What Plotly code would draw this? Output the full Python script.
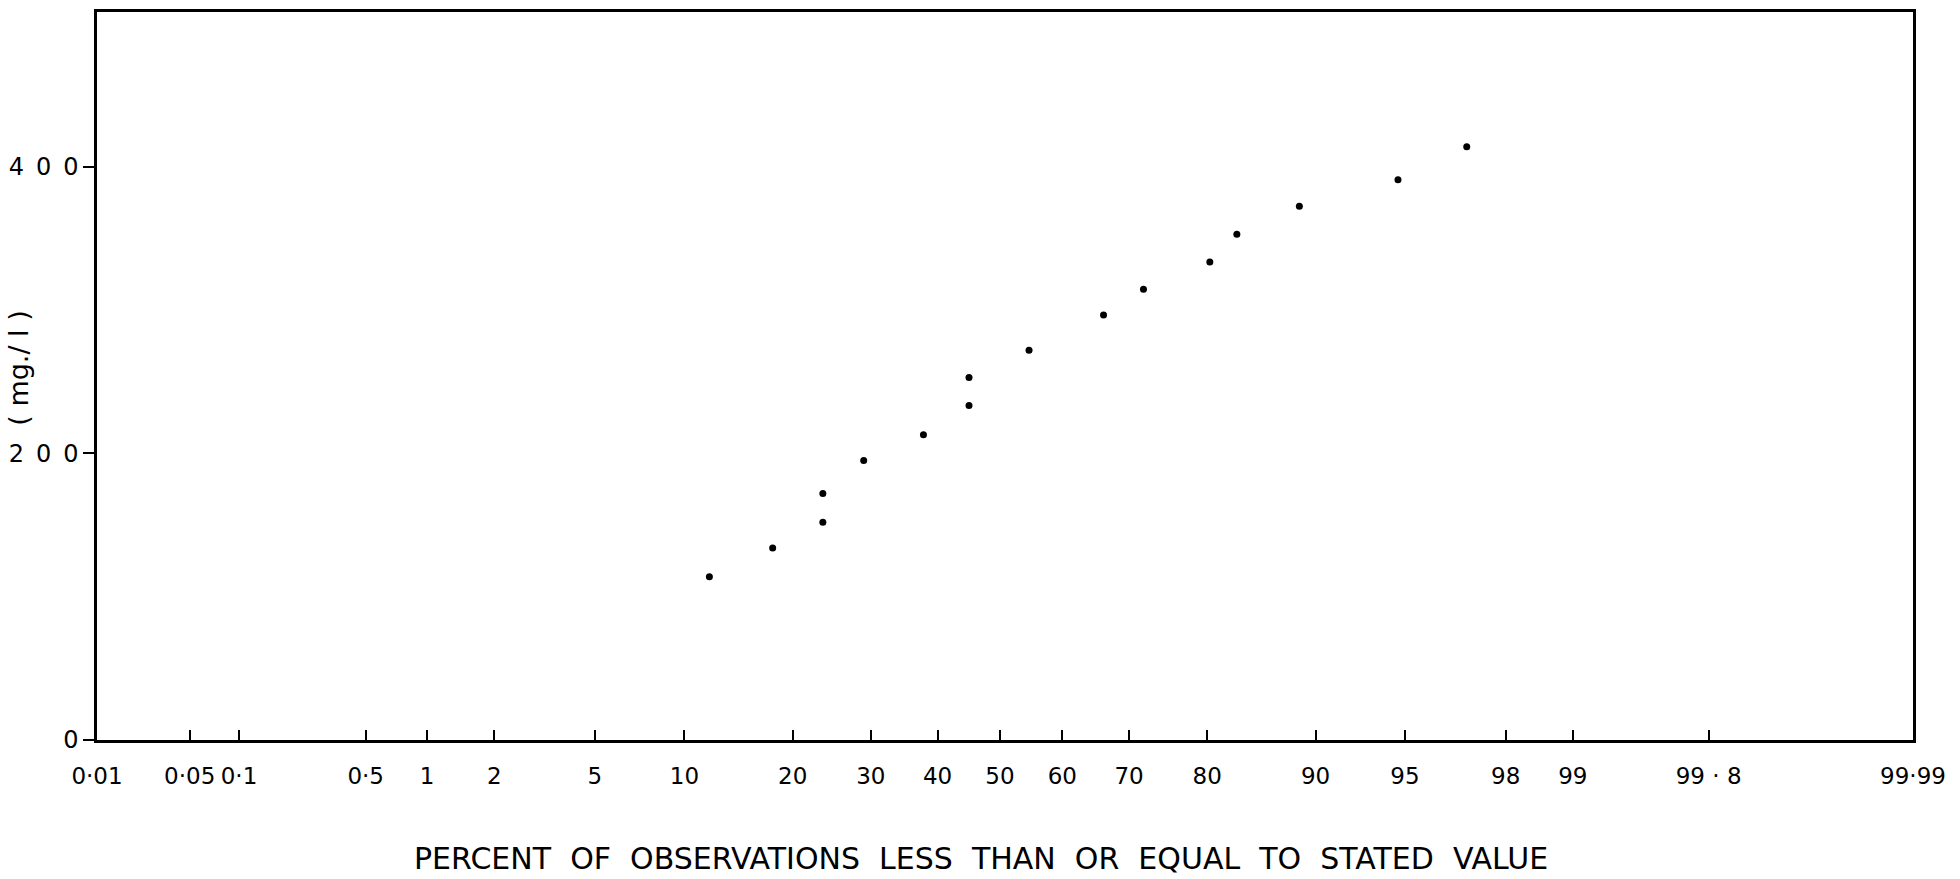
from statistics import NormalDist
import plotly.graph_objects as go

# Cumulative percent of observations (<= stated value) and the stated values (mg/l)
percent_le = [11.9, 17.8, 23.6, 23.6, 29.0, 37.8, 45.0, 45.0,
              54.7, 66.3, 72.0, 80.3, 83.2, 88.8, 94.7, 97.1]
conc_mg_l = [114, 134, 152, 172, 195, 213, 233.5, 253,
             272, 296.5, 314.5, 333.5, 353, 372.5, 391, 414]

# Probability-scale tick marks
prob_ticks = [0.01, 0.05, 0.1, 0.5, 1, 2, 5, 10, 20, 30, 40, 50,
              60, 70, 80, 90, 95, 98, 99, 99.8, 99.99]
prob_labels = ["0·01", "0·05", "0·1", "0·5", "1", "2", "5", "10", "20", "30",
               "40", "50", "60", "70", "80", "90", "95", "98", "99",
               "99 · 8", "99·99"]
y_ticks = [0, 200, 400]
y_labels = ["0", "2\u20020\u20020", "4\u20020\u20020"]

nd = NormalDist()


def probit(p):
    return nd.inv_cdf(p / 100.0)


# Probability axis span; the extreme graduations sit on the frame edges
Z_LO, Z_HI = -3.667, 3.708

x_pts = [probit(p) for p in percent_le]
tick_z = [min(max(probit(p), Z_LO + 1e-6), Z_HI - 1e-6) for p in prob_ticks]

FONT = "DejaVu Sans"
GAP = "\u00a0\u00a0"

fig = go.Figure()
fig.add_trace(go.Scatter(
    x=x_pts, y=conc_mg_l, mode="markers",
    marker=dict(color="black", size=7),
    showlegend=False, hoverinfo="skip",
))

fig.update_layout(
    width=1960, height=879,
    margin=dict(l=95, r=47, t=9, b=139),
    paper_bgcolor="white", plot_bgcolor="white",
    font=dict(family=FONT, color="black"),
    xaxis=dict(
        range=[Z_LO, Z_HI],
        tickmode="array", tickvals=tick_z, ticktext=prob_labels,
        ticks="inside", ticklen=10, tickwidth=2, tickcolor="black",
        showline=True, linecolor="black", linewidth=2.5, mirror=True,
        showgrid=False, zeroline=False,
        tickfont=dict(family=FONT, size=23, color="black"),
        ticklabelstandoff=14,
    ),
    yaxis=dict(
        range=[0, 508],
        tickmode="array", tickvals=y_ticks, ticktext=y_labels,
        ticks="outside", ticklen=11, tickwidth=2, tickcolor="black",
        showline=True, linecolor="black", linewidth=2.5, mirror=True,
        showgrid=False, zeroline=False,
        tickfont=dict(family=FONT, size=24, color="black"),
        ticklabelstandoff=0,
    ),
)

# Axis titles
x_title = GAP.join(["PERCENT", "OF", "OBSERVATIONS", "LESS", "THAN", "OR",
                    "EQUAL", "TO", "STATED", "VALUE"])
fig.add_annotation(
    text=x_title,
    xref="paper", yref="paper", x=0.487, y=-0.163,
    xanchor="center", yanchor="middle", showarrow=False,
    font=dict(family=FONT, size=30, color="black"),
)
fig.add_annotation(
    text="( mg./ l )",
    xref="paper", yref="paper", x=0, y=0.51,
    xshift=-78, xanchor="center", yanchor="middle",
    textangle=-90, showarrow=False,
    font=dict(family=FONT, size=27, color="black"),
)

fig.write_html("out.html")
